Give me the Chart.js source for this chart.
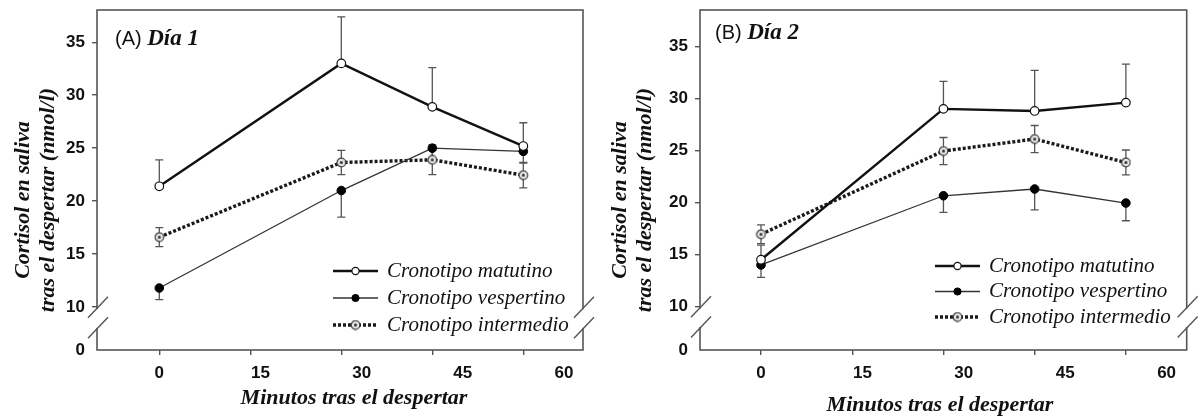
<!DOCTYPE html>
<html>
<head>
<meta charset="utf-8">
<script src="https://cdn.jsdelivr.net/npm/chart.js@4.4.0/dist/chart.umd.min.js"></script>
<style>
  html, body { margin: 0; padding: 0; background: #fff; }
  #wrap { position: relative; width: 1199px; height: 419px; }
  canvas { position: absolute; top: 0; }
  #cnvA { left: 0; }
  #cnvB { left: 600px; }
</style>
</head>
<body>
<div id="wrap">
  <canvas id="cnvA" width="600" height="419"></canvas>
  <canvas id="cnvB" width="599" height="419"></canvas>
</div>
<script>
// minutos en que se tomo cada muestra
const minutos = [0, 30, 45, 60];
const xTicks = [0, 15, 30, 45, 60];
const yTicks = [10, 15, 20, 25, 30, 35];
const series = ['Cronotipo matutino', 'Cronotipo vespertino', 'Cronotipo intermedio'];

// Dia 1
const matutino1 = [21.4, 33.0, 28.9, 25.2];
const matutino1Err = [2.5, 4.4, 3.7, 2.2];
const vespertino1 = [11.8, 21.0, 25.0, 24.7];
const vespertino1Err = [1.1, 2.5, 1.0, 1.1];
const intermedio1 = [16.6, 23.65, 23.9, 22.45];
const intermedio1Err = [0.9, 1.15, 1.4, 1.2];

// Dia 2
const matutino2 = [14.5, 29.0, 28.8, 29.6];
const matutino2Err = [1.4, 2.65, 3.9, 3.7];
const vespertino2 = [14.0, 20.65, 21.3, 19.95];
const vespertino2Err = [1.2, 1.6, 2.0, 1.7];
const intermedio2 = [16.95, 24.95, 26.1, 23.85];
const intermedio2Err = [0.9, 1.3, 1.3, 1.2];

const tinta = '#111';
const ejeColor = '#555';
const fuenteTicks = { family: '"Liberation Sans", Arial, sans-serif', size: 17, weight: 'bold' };

// marcador del cronotipo intermedio (circulo gris con punto)
const marcaIntermedio = document.createElement('canvas');
marcaIntermedio.width = 11; marcaIntermedio.height = 11;
(function () {
  const c = marcaIntermedio.getContext('2d');
  c.beginPath(); c.arc(5.5, 5.5, 4.3, 0, Math.PI * 2);
  c.fillStyle = '#e4e4e4'; c.fill();
  c.lineWidth = 1.2; c.strokeStyle = '#444'; c.stroke();
  c.beginPath(); c.arc(5.5, 5.5, 1.5, 0, Math.PI * 2);
  c.fillStyle = '#333'; c.fill();
})();

function puntos(vals) {
  return vals.map((v, i) => ({ x: minutos[i], y: v }));
}

// barras de error (matutino hacia arriba, vespertino hacia abajo, intermedio ambas)
const barrasError = {
  id: 'barrasError',
  beforeDatasetsDraw(chart) {
    const { ctx, scales: { x, y } } = chart;
    ctx.save();
    ctx.strokeStyle = ejeColor;
    ctx.lineWidth = 1.3;
    chart.data.datasets.forEach(ds => {
      ds.data.forEach((p, i) => {
        const up = ds.errUp ? ds.errUp[i] : 0;
        const dn = ds.errDown ? ds.errDown[i] : 0;
        const px = x.getPixelForValue(p.x);
        const y0 = y.getPixelForValue(p.y - dn);
        const y1 = y.getPixelForValue(p.y + up);
        ctx.beginPath();
        ctx.moveTo(px, y0); ctx.lineTo(px, y1);
        if (up) { ctx.moveTo(px - 4, y1); ctx.lineTo(px + 4, y1); }
        if (dn) { ctx.moveTo(px - 4, y0); ctx.lineTo(px + 4, y0); }
        ctx.stroke();
      });
    });
    ctx.restore();
  }
};

// leyenda dentro del area
const leyenda = {
  id: 'leyenda',
  afterDatasetsDraw(chart, args, o) {
    const { ctx, chartArea: a } = chart;
    chart.data.datasets.forEach((ds, i) => {
      const yy = a.top + o.top + i * o.gap;
      const x0 = a.left + o.left, x1 = x0 + 45, xm = (x0 + x1) / 2;
      ctx.save();
      ctx.strokeStyle = ds.borderColor;
      ctx.lineWidth = ds.borderWidth;
      ctx.setLineDash(ds.borderDash || []);
      ctx.beginPath(); ctx.moveTo(x0, yy); ctx.lineTo(x1, yy); ctx.stroke();
      ctx.setLineDash([]);
      if (ds.pointStyle === 'circle') {
        ctx.beginPath(); ctx.arc(xm, yy, 3.6, 0, Math.PI * 2);
        ctx.fillStyle = ds.pointBackgroundColor; ctx.fill();
        ctx.lineWidth = ds.pointBorderWidth; ctx.strokeStyle = ds.pointBorderColor; ctx.stroke();
      } else {
        ctx.drawImage(ds.pointStyle, xm - 5.5, yy - 5.5);
      }
      ctx.font = 'italic 21px "Liberation Serif", "Times New Roman", serif';
      ctx.fillStyle = tinta;
      ctx.textBaseline = 'middle';
      ctx.textAlign = 'left';
      ctx.fillText(ds.label, x1 + 9, yy);
      ctx.restore();
    });
  }
};

// marco completo con los cortes del eje
const marco = {
  id: 'marco',
  afterDraw(chart, args, o) {
    const { ctx, chartArea: a, scales: { y } } = chart;
    const yHi = y.getPixelForValue(o.corteAlto);
    const yLo = y.getPixelForValue(o.corteBajo);
    ctx.save();
    ctx.strokeStyle = ejeColor;
    ctx.lineWidth = 1.6;
    ctx.strokeRect(a.left, a.top, a.right - a.left, a.bottom - a.top);
    [a.left, a.right].forEach(xx => {
      ctx.fillStyle = '#fff';
      ctx.fillRect(xx - 3, yHi + 1, 6, yLo - yHi - 2);
      ctx.lineWidth = 1.4;
      [yHi, yLo].forEach(yy => {
        ctx.beginPath();
        ctx.moveTo(xx - 9, yy + 9.5);
        ctx.lineTo(xx + 11, yy - 11.5);
        ctx.stroke();
      });
    });
    ctx.restore();
  }
};

// titulos de ejes y del panel
const titulos = {
  id: 'titulos',
  afterDraw(chart, args, o) {
    const ctx = chart.ctx;
    ctx.save();
    ctx.fillStyle = tinta;
    ctx.textBaseline = 'middle';
    ctx.textAlign = 'left';
    ctx.font = '20px "Liberation Sans", Arial, sans-serif';
    ctx.fillText(o.letra, o.panelX, o.panelY);
    const w = ctx.measureText(o.letra + ' ').width;
    ctx.font = 'italic bold 23px "Liberation Serif", "Times New Roman", serif';
    ctx.fillText(o.dia, o.panelX + w, o.panelY);

    ctx.font = 'italic bold 22px "Liberation Serif", "Times New Roman", serif';
    ctx.textAlign = 'center';
    ctx.fillText(o.xTitulo, o.xTituloX, o.xTituloY);

    ctx.translate(o.yTituloX, o.yTituloY);
    ctx.rotate(-Math.PI / 2);
    o.yTitulo.forEach((t, i) => ctx.fillText(t, 0, i * 25));
    ctx.restore();
  }
};

function crearPanel(canvas, d, g) {
  const cero = g.yMin; // el 0 del eje se dibuja en el minimo de la escala cortada
  return new Chart(canvas, {
    type: 'line',
    data: {
      datasets: [{
        label: series[0],
        data: puntos(d.mat),
        errUp: d.matErr,
        borderColor: '#111',
        borderWidth: 2.4,
        pointStyle: 'circle',
        pointRadius: 4.3,
        pointBackgroundColor: '#fff',
        pointBorderColor: '#111',
        pointBorderWidth: 1.2,
        tension: 0
      }, {
        label: series[1],
        data: puntos(d.ves),
        errDown: d.vesErr,
        borderColor: '#333',
        borderWidth: 1.3,
        pointStyle: 'circle',
        pointRadius: 4.3,
        pointBackgroundColor: '#000',
        pointBorderColor: '#000',
        pointBorderWidth: 1,
        tension: 0
      }, {
        label: series[2],
        data: puntos(d.int),
        errUp: d.intErr,
        errDown: d.intErr,
        borderColor: '#1a1a1a',
        borderWidth: 3.4,
        borderDash: [3, 2],
        pointStyle: marcaIntermedio,
        pointRadius: 4.3,
        tension: 0
      }]
    },
    options: {
      responsive: false,
      animation: false,
      layout: { padding: { left: 0, right: g.derecha, top: 10, bottom: 0 } },
      scales: {
        x: {
          type: 'linear',
          min: g.xMin, max: g.xMax,
          afterBuildTicks: s => { s.ticks = xTicks.map(v => ({ value: v })); },
          afterFit: s => { s.height = 5; s.paddingLeft = 0; s.paddingRight = 0; },
          ticks: { display: false },
          grid: { drawOnChartArea: false, drawTicks: true, tickLength: 5, color: ejeColor, lineWidth: 1.4 },
          border: { display: false }
        },
        x2: {
          type: 'linear',
          position: 'bottom',
          min: g.etqMin, max: g.etqMax,
          afterBuildTicks: s => { s.ticks = xTicks.map(v => ({ value: v })); },
          afterFit: s => { s.height = 64; s.paddingLeft = 0; s.paddingRight = 0; },
          ticks: { padding: 8, color: tinta, font: fuenteTicks, maxRotation: 0 },
          grid: { display: false, drawTicks: false },
          border: { display: false }
        },
        y: {
          type: 'linear',
          min: g.yMin, max: g.yMax,
          afterBuildTicks: s => { s.ticks = [cero].concat(yTicks).map(v => ({ value: v })); },
          afterFit: s => { s.width = g.izquierda; s.paddingTop = 0; s.paddingBottom = 0; },
          ticks: {
            padding: 7, color: tinta, font: fuenteTicks,
            callback: v => (v === cero ? '0' : v)
          },
          grid: {
            drawOnChartArea: false, tickLength: 5, color: ejeColor, lineWidth: 1.4,
            tickColor: c => (c.tick && c.tick.value === cero ? 'rgba(0,0,0,0)' : ejeColor)
          },
          border: { display: false }
        }
      },
      plugins: {
        legend: { display: false },
        tooltip: { enabled: false },
        leyenda: { left: g.leyX, top: g.leyY, gap: g.leyGap },
        marco: { corteAlto: 9.9, corteBajo: 7.95 },
        titulos: {
          letra: g.letra, dia: g.dia, panelX: 115, panelY: g.panelY,
          xTitulo: 'Minutos tras el despertar', xTituloX: g.xTitX, xTituloY: g.xTitY,
          yTitulo: ['Cortisol en saliva', 'tras el despertar (nmol/l)'],
          yTituloX: g.yTitX, yTituloY: 200
        }
      }
    },
    plugins: [barrasError, leyenda, marco, titulos]
  });
}

crearPanel(document.getElementById('cnvA'),
  { mat: matutino1, matErr: matutino1Err, ves: vespertino1, vesErr: vespertino1Err, int: intermedio1, intErr: intermedio1Err },
  { izquierda: 97, derecha: 17, xMin: -10.27, xMax: 69.84, etqMin: -9.24, etqMax: 62.82,
    yMin: 5.95, yMax: 38.04, leyX: 236, leyY: 261, leyGap: 27,
    letra: '(A)', dia: 'Día 1', panelY: 39, xTitX: 354, xTitY: 398, yTitX: 23 });

crearPanel(document.getElementById('cnvB'),
  { mat: matutino2, matErr: matutino2Err, ves: vespertino2, vesErr: vespertino2Err, int: intermedio2, intErr: intermedio2Err },
  { izquierda: 100, derecha: 12.3, xMin: -10.03, xMax: 70.0, etqMin: -9.02, etqMax: 62.97,
    yMin: 5.83, yMax: 38.5, leyX: 235, leyY: 256, leyGap: 25.5,
    letra: '(B)', dia: 'Día 2', panelY: 33, xTitX: 340, xTitY: 405, yTitX: 20 });
</script>
</body>
</html>
